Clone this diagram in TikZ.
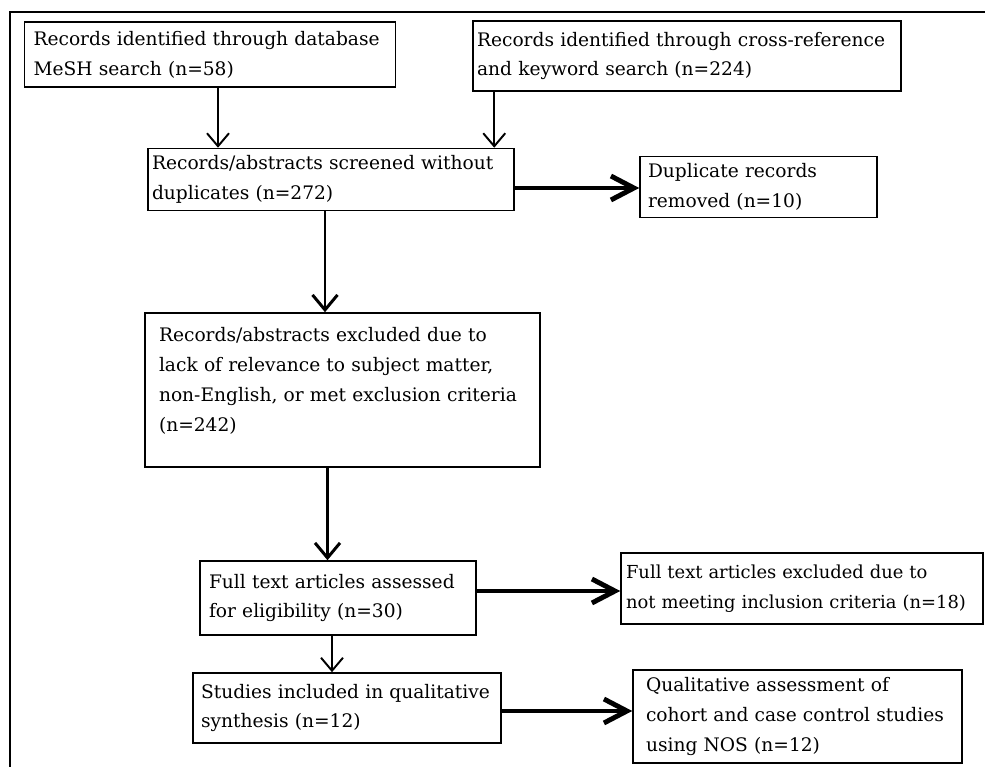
\documentclass[tikz,border=0pt]{standalone}
\usepackage{fontspec}
\setmainfont{DejaVu Serif}
\usepackage{tikz}
\usetikzlibrary{positioning,arrows.meta,calc}
\tikzset{
  box/.style  ={draw, line width=0.9pt, align=left, inner ysep=4pt,
                font=\fontsize{10.6}{17}\selectfont},
  ar/.style   ={-{Straight Barb[length=2.6mm,width=4.4mm]}, line width=1.1pt},
  mar/.style  ={-{Straight Barb[length=3mm,width=5mm]}, line width=1.7pt},
  har/.style  ={-{Straight Barb[length=4.6mm,width=4.8mm]}, line width=2.8pt},
}

\begin{document}
\begin{tikzpicture}[x=0.02cm,y=-0.02cm]
\useasboundingbox (0,0) rectangle (985,767);
% outer frame
\draw[line width=1.4pt] (10,767) -- (10,12) -- (985,12);

\node[box,inner xsep=0.18cm,text width=7.06cm,minimum height=1.30cm] (mesh) at (210,54.5)
  {Records identified through database\\ MeSH search (n=58)};
\node[box,inner xsep=0.08cm,text width=8.40cm,minimum height=1.40cm] (xref) at (687,56)
  {Records identified through cross-reference\\ and keyword search (n=224)};
\node[box,inner xsep=0.08cm,text width=7.16cm,minimum height=1.22cm] (scr) at (331,179.5)
  {Records/abstracts screened without\\ duplicates (n=272)};
\node[box,inner xsep=0.16cm,text width=4.42cm,minimum height=1.20cm] (dup) at (758.5,187)
  {Duplicate records\\ removed (n=10)};
\node[box,inner xsep=0.28cm,text width=7.34cm,minimum height=3.08cm,text depth=63pt] (excl) at (342.5,390)
  {Records/abstracts excluded due to\\ lack of relevance to subject matter,\\
   non-English, or met exclusion criteria\\ (n=242)};
\node[box,inner xsep=0.18cm,text width=5.16cm,minimum height=1.48cm] (full) at (338,598)
  {Full text articles assessed\\ for eligibility (n=30)};
\node[box,inner xsep=0.10cm,text width=7.04cm,minimum height=1.42cm,
      font=\fontsize{10.2}{17}\selectfont] (fexc) at (802,588.5)
  {Full text articles excluded due to\\ not meeting inclusion criteria (n=18)};
\node[box,inner xsep=0.16cm,text width=5.84cm,minimum height=1.40cm] (incl) at (347,708)
  {Studies included in qualitative\\ synthesis (n=12)};
\node[box,inner xsep=0.26cm,text width=6.06cm,minimum height=1.86cm] (nos) at (797.5,716.5)
  {Qualitative assessment of\\ cohort and case control studies\\ using NOS (n=12)};

\draw[ar] ([xshift=0.16cm]mesh.south) -- ([xshift=0.16cm]mesh.south |- scr.north);
\draw[ar] ([xshift=0.44cm]xref.south west) -- ([xshift=0.44cm]xref.south west |- scr.north);
\draw[har] ([yshift=-0.17cm]scr.east) -- ([yshift=-0.17cm]scr.east -| dup.west);
\draw[mar] ([xshift=-0.12cm]scr.south) -- ([xshift=-0.12cm]scr.south |- excl.north);
\draw[mar] ([xshift=-0.3cm]excl.south) -- ([xshift=-0.3cm]excl.south |- full.north);
\draw[har] ([yshift=0.14cm]full.east) -- ([yshift=0.14cm]full.east -| fexc.west);
\draw[ar] ([xshift=-0.12cm]full.south) -- ([xshift=-0.12cm]full.south |- incl.north);
\draw[har] ([yshift=-0.06cm]incl.east) -- ([yshift=-0.06cm]incl.east -| nos.west);
\end{tikzpicture}
\end{document}
